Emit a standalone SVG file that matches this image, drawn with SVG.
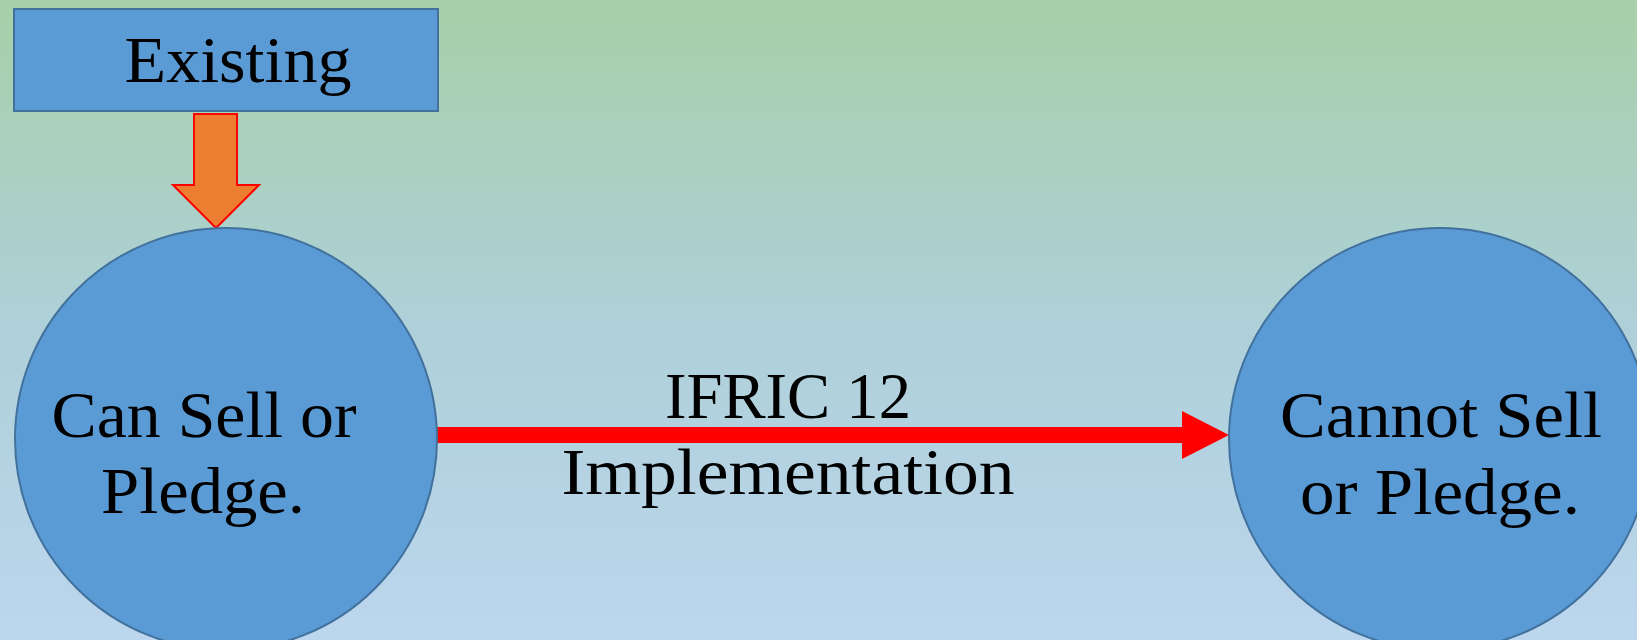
<svg xmlns="http://www.w3.org/2000/svg" width="1637" height="640" viewBox="0 0 1637 640">
<defs>
<linearGradient id="bg" x1="0" y1="0" x2="0" y2="1">
<stop offset="0" stop-color="#a6d0a8"/>
<stop offset="0.5" stop-color="#aed0d8"/>
<stop offset="1" stop-color="#bcd6ee"/>
</linearGradient>
</defs>
<style>
.node{fill:#5b9bd5;stroke:#41719c;stroke-width:2}
.t{font-family:"Liberation Serif","Times New Roman",serif;font-size:66px;fill:#000;text-anchor:middle}
</style>
<rect x="0" y="0" width="1637" height="640" fill="url(#bg)"/>
<g id="existing">
<rect class="node" x="14" y="9" width="424" height="102"/>
<text class="t" x="238" y="82" textLength="227" lengthAdjust="spacingAndGlyphs">Existing</text>
</g>
<g id="connectors">
<polygon points="194,114 237,114 237,185 259,185 216,228 173,185 194,185" fill="#ed7d31" stroke="#ff0000" stroke-width="2"/>
<rect x="436" y="427" width="748" height="16" fill="#ff0000"/>
<polygon points="1182,411 1229,435 1182,459" fill="#ff0000"/>
</g>
<g id="can">
<circle class="node" cx="226" cy="439" r="211"/>
<text class="t" x="204" y="437" textLength="305" lengthAdjust="spacingAndGlyphs">Can Sell or</text>
<text class="t" x="203" y="513" textLength="204" lengthAdjust="spacingAndGlyphs">Pledge.</text>
</g>
<g id="cannot">
<circle class="node" cx="1440" cy="439" r="211"/>
<text class="t" x="1441" y="437" textLength="322" lengthAdjust="spacingAndGlyphs">Cannot Sell</text>
<text class="t" x="1440" y="514" textLength="280" lengthAdjust="spacingAndGlyphs">or Pledge.</text>
</g>
<g id="label">
<text class="t" x="788" y="418" textLength="246" lengthAdjust="spacingAndGlyphs">IFRIC 12</text>
<text class="t" x="788" y="494" textLength="453" lengthAdjust="spacingAndGlyphs">Implementation</text>
</g>
</svg>
